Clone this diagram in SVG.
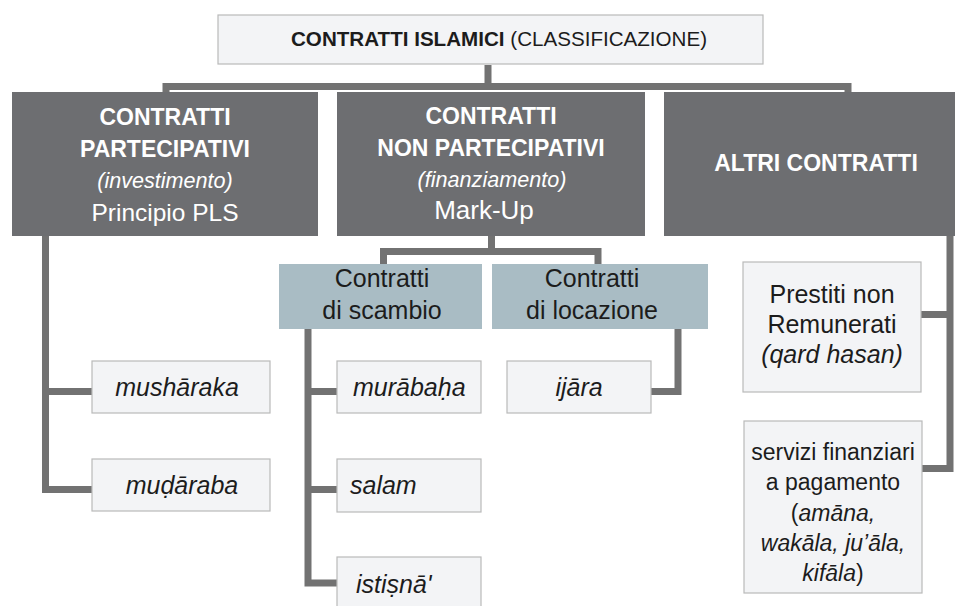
<svg xmlns="http://www.w3.org/2000/svg" width="955" height="606" viewBox="0 0 955 606">
<style>
text{font-family:"Liberation Sans",Arial,sans-serif;}
.dark{fill:#6d6e71;}
.light{fill:#f3f4f6;stroke:#b9b9b9;stroke-width:1.2;}
.blue{fill:#a9bcc4;}
.wt{fill:#ffffff;text-anchor:middle;}
.b{font-weight:bold;font-size:23px;}
.it{font-style:italic;font-size:21.6px;}
.rg{font-size:24.5px;}
.dt{fill:#1c1c1c;}
.c{text-anchor:middle;}
.i{font-style:italic;}
.conn{fill:none;stroke:#727272;stroke-width:7;stroke-linejoin:miter;stroke-linecap:butt;}
</style>
<rect width="955" height="606" fill="#ffffff"/>
<g id="connectors">
<path class="conn" d="M488 65V86.5M166 92V86.5H848V92"/>
<path class="conn" d="M45.5 236V489.5H92M45.5 391.5H92"/>
<path class="conn" d="M491.5 236V251.5M383.5 264V251.5H598V264"/>
<path class="conn" d="M308 329V583H337M308 391.5H337M308 489.5H337"/>
<path class="conn" d="M678 329V391.5H651"/>
<path class="conn" d="M950 236V468.5H922M950 314.5H921"/>
</g>
<g id="root">
<rect class="light" x="218" y="15" width="545" height="49"/>
<text x="291" y="46" font-size="20.6" class="dt"><tspan font-weight="bold">CONTRATTI ISLAMICI</tspan> (CLASSIFICAZIONE)</text>
</g>
<g id="partecipativi">
<rect class="dark" x="12" y="92" width="306" height="144"/>
<text class="wt b" x="165" y="125">CONTRATTI</text>
<text class="wt b" x="165" y="157">PARTECIPATIVI</text>
<text class="wt it" x="165" y="188">(investimento)</text>
<text class="wt rg" x="165" y="221">Principio PLS</text>
</g>
<g id="non-partecipativi">
<rect class="dark" x="337" y="92" width="308" height="144"/>
<text class="wt b" x="491" y="124">CONTRATTI</text>
<text class="wt b" x="491" y="156">NON PARTECIPATIVI</text>
<text class="wt it" x="492" y="187">(finanziamento)</text>
<text class="wt" x="484" y="219" font-size="26">Mark-Up</text>
</g>
<g id="altri">
<rect class="dark" x="664" y="92" width="291" height="144"/>
<text class="wt b" x="816" y="171" font-size="23.3">ALTRI CONTRATTI</text>
</g>
<g id="scambio">
<rect class="blue" x="279" y="264" width="203" height="65"/>
<text class="dt c" x="382" y="287" font-size="25">Contratti</text>
<text class="dt c" x="382" y="319" font-size="25">di scambio</text>
</g>
<g id="locazione">
<rect class="blue" x="492" y="264" width="216" height="65"/>
<text class="dt c" x="592" y="287" font-size="25">Contratti</text>
<text class="dt c" x="592" y="319" font-size="25">di locazione</text>
</g>
<g id="musharaka">
<rect class="light" x="92" y="361" width="178" height="52"/>
<text class="dt c i" x="177" y="396" font-size="25">mushāraka</text>
</g>
<g id="mudaraba">
<rect class="light" x="92" y="459" width="178" height="52"/>
<text class="dt c i" x="182" y="494" font-size="25">muḍāraba</text>
</g>
<g id="murabaha">
<rect class="light" x="337" y="361" width="144" height="52"/>
<text class="dt i" x="353" y="396" font-size="25">murābaḥa</text>
</g>
<g id="salam">
<rect class="light" x="337" y="459" width="144" height="53"/>
<text class="dt i" x="350" y="494" font-size="25">salam</text>
</g>
<g id="istisna">
<rect class="light" x="337" y="557" width="144" height="55"/>
<text class="dt i" x="356" y="593" font-size="25">istiṣnā'</text>
</g>
<g id="ijara">
<rect class="light" x="507" y="361" width="144" height="52"/>
<text class="dt c i" x="579" y="396" font-size="25">ijāra</text>
</g>
<g id="prestiti">
<rect class="light" x="743" y="262" width="178" height="130"/>
<text class="dt c" x="832" y="303" font-size="25">Prestiti non</text>
<text class="dt c" x="832" y="333" font-size="25">Remunerati</text>
<text class="dt c i" x="832" y="363" font-size="25">(qard hasan)</text>
</g>
<g id="servizi">
<rect class="light" x="744" y="421" width="178" height="172"/>
<text class="dt c" x="833" y="460" font-size="23">servizi finanziari</text>
<text class="dt c" x="833" y="490" font-size="23">a pagamento</text>
<text class="dt c" x="833" y="521" font-size="23">(<tspan class="i">amāna,</tspan></text>
<text class="dt c i" x="833" y="551" font-size="23">wakāla, ju’āla,</text>
<text class="dt c" x="833" y="581" font-size="23"><tspan class="i">kifāla</tspan>)</text>
</g>
</svg>
